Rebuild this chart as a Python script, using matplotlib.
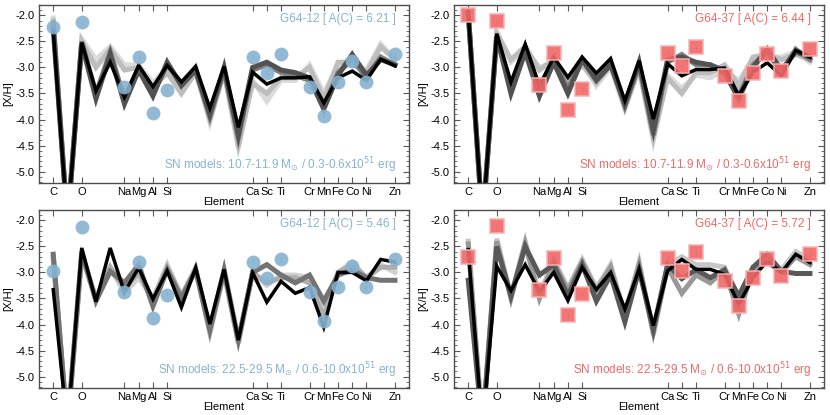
import matplotlib
matplotlib.use('Agg')
import matplotlib.pyplot as plt
from matplotlib.ticker import MultipleLocator

plt.rcParams['font.family'] = ['Liberation Sans', 'DejaVu Sans']
plt.rcParams['mathtext.fontset'] = 'dejavusans'

# atomic numbers C..Zn, the model curves cover every one of them
z_all = list(range(6, 31))

# observed elements
obs_z = [6, 8, 11, 12, 13, 14, 20, 21, 22, 24, 25, 26, 27, 28, 30]
obs_names = ['C', 'O', 'Na', 'Mg', 'Al', 'Si', 'Ca', 'Sc', 'Ti', 'Cr', 'Mn', 'Fe', 'Co', 'Ni', 'Zn']

g6412_hi = [-2.22, -2.13, -3.37, -2.80, -3.88, -3.43, -2.79, -3.11, -2.75, -3.37, -3.93, -3.28, -2.88, -3.28, -2.75]
g6412_lo = [-2.97, -2.13, -3.37, -2.80, -3.88, -3.43, -2.79, -3.11, -2.75, -3.37, -3.93, -3.28, -2.88, -3.28, -2.75]
g6437_hi = [-1.99, -2.11, -3.34, -2.73, -3.82, -3.41, -2.72, -2.98, -2.61, -3.16, -3.65, -3.11, -2.75, -3.06, -2.64]
g6437_lo = [-2.71, -2.11, -3.34, -2.73, -3.82, -3.41, -2.72, -2.98, -2.61, -3.16, -3.65, -3.11, -2.75, -3.06, -2.64]

# SN yield models, Z = 6..30 (N sits far below the plot)
# panel 1: low mass models fitted to G64-12
m1_black = [-2.30, -6.0, -2.52, -3.45, -2.90, -3.57, -2.96, -3.37, -2.96, -3.28, -2.98, -3.78, -2.98, -4.15, -3.09,
            -3.32, -3.20, -3.20, -3.18, -3.68, -3.20, -3.07, -3.25, -2.84, -2.97]
m1_dark = [-2.25, -6.0, -2.55, -3.60, -2.75, -3.70, -3.05, -3.55, -2.90, -3.35, -3.05, -3.90, -3.00, -4.30, -3.00,
           -2.90, -3.05, -3.10, -3.20, -3.80, -3.15, -2.75, -3.15, -2.85, -2.95]
m1_mid = [-2.15, -6.0, -2.50, -3.50, -2.70, -3.60, -3.00, -3.50, -2.95, -3.30, -3.05, -3.95, -3.05, -4.35, -3.05,
          -2.95, -3.10, -3.15, -3.25, -3.75, -3.10, -2.85, -3.20, -2.80, -2.95]
m1_light = [-2.10, -6.0, -2.50, -3.00, -2.65, -3.05, -3.00, -3.40, -3.10, -3.50, -3.10, -4.00, -3.10, -4.50, -3.30,
            -3.50, -3.20, -3.20, -3.00, -3.60, -2.90, -2.90, -3.10, -2.60, -2.85]
m1_pale = [-2.05, -6.0, -2.45, -2.85, -2.60, -2.95, -2.95, -3.30, -3.00, -3.40, -3.00, -4.05, -3.05, -4.55, -3.25,
           -3.65, -3.25, -3.25, -2.95, -3.50, -2.95, -2.95, -3.05, -2.55, -2.85]

# panel 2: low mass models fitted to G64-37
m2_black = [-1.95, -6.0, -2.35, -3.28, -2.55, -3.35, -2.80, -3.19, -2.80, -3.11, -2.83, -3.64, -2.87, -3.99, -2.93,
            -3.16, -3.04, -3.04, -3.01, -3.54, -3.09, -2.91, -3.16, -2.67, -2.80]
m2_dark = [-1.95, -6.0, -2.40, -3.50, -2.70, -3.55, -2.90, -3.50, -2.85, -3.25, -2.95, -3.70, -2.90, -4.20, -2.85,
           -2.80, -2.90, -2.95, -3.10, -3.60, -3.00, -2.65, -3.05, -2.70, -2.80]
m2_mid = [-1.95, -6.0, -2.40, -3.40, -2.65, -3.45, -2.85, -3.40, -2.85, -3.20, -2.90, -3.75, -2.95, -4.30, -2.90,
          -2.75, -2.95, -2.95, -3.05, -3.55, -2.95, -2.70, -3.10, -2.65, -2.85]
m2_light = [-1.95, -6.0, -2.35, -2.85, -2.60, -3.05, -2.85, -3.25, -2.95, -3.30, -2.95, -3.75, -3.00, -4.35, -3.20,
            -3.50, -3.10, -3.10, -2.95, -3.35, -2.80, -2.75, -2.85, -2.75, -2.85]
m2_pale = [-1.95, -6.0, -2.30, -2.90, -2.65, -3.00, -2.90, -3.20, -2.90, -3.35, -3.00, -3.80, -3.05, -4.40, -3.15,
           -3.40, -3.15, -3.20, -3.05, -3.25, -2.85, -2.80, -2.80, -2.70, -2.90]

# panel 3: high mass models fitted to G64-12
m3_black = [-3.33, -6.0, -2.53, -3.56, -2.53, -3.38, -2.91, -3.51, -2.97, -3.67, -2.91, -3.99, -2.94, -4.30, -3.00,
            -3.57, -3.17, -3.40, -3.29, -4.05, -3.00, -3.00, -3.16, -2.75, -2.80]
m3_mid = [-2.65, -6.0, -2.60, -3.55, -2.98, -3.20, -2.85, -3.65, -2.95, -3.50, -2.95, -4.10, -2.95, -4.30, -3.00,
          -2.85, -3.05, -3.20, -3.05, -3.55, -3.05, -2.95, -3.10, -3.15, -3.15]
m3_light = [-2.70, -6.0, -2.65, -3.50, -2.90, -3.30, -3.00, -3.55, -2.90, -3.45, -2.95, -4.15, -3.00, -4.35, -3.00,
            -3.20, -3.10, -3.10, -3.20, -3.85, -3.00, -2.85, -3.10, -2.90, -2.90]
m3_pale = [-2.75, -6.0, -2.70, -3.50, -2.90, -3.40, -3.10, -3.50, -2.85, -3.45, -2.90, -4.15, -3.00, -4.35, -3.00,
           -3.25, -3.05, -3.05, -3.10, -3.70, -3.00, -2.80, -3.10, -2.85, -3.00]

# panel 4: high mass models fitted to G64-37
m4_black = [-2.56, -6.0, -2.88, -3.35, -2.85, -3.37, -3.00, -3.54, -2.90, -3.33, -3.00, -3.70, -2.94, -4.02, -2.97,
            -2.75, -2.94, -2.94, -3.04, -3.61, -3.10, -2.78, -3.00, -2.65, -2.81]
m4_dark = [-3.15, -6.0, -2.50, -3.45, -2.50, -3.05, -2.85, -3.45, -2.85, -3.55, -3.05, -3.95, -2.95, -4.10, -2.85,
           -3.12, -2.95, -3.10, -2.95, -3.45, -2.90, -2.65, -2.98, -3.02, -3.02]
m4_light = [-2.45, -6.0, -2.40, -3.50, -2.45, -3.50, -2.80, -3.35, -2.80, -3.35, -2.90, -3.85, -2.85, -4.15, -2.90,
            -3.40, -3.05, -3.20, -2.95, -3.80, -2.95, -2.80, -3.00, -2.70, -2.85]
m4_pale = [-2.40, -6.0, -2.35, -3.45, -2.40, -3.45, -2.75, -3.30, -2.75, -3.30, -2.85, -3.80, -2.80, -4.20, -2.85,
           -2.70, -2.85, -2.85, -2.90, -3.55, -3.00, -2.75, -2.95, -2.60, -2.75]

blue = '#86b3d1'
red = '#f06868'
low_txt = r'SN models: 10.7-11.9 M$_{\odot}$ / 0.3-0.6x10$^{51}$ erg'
high_txt = r'SN models: 22.5-29.5 M$_{\odot}$ / 0.6-10.0x10$^{51}$ erg'

panels = [
    # rect, models [(values, grey)], obs, star label, sn label, colour, marker
    ([0.047, 0.559, 0.446, 0.429],
     [(m1_pale, '0.86'), (m1_light, '0.74'), (m1_mid, '0.5'), (m1_dark, '0.32'), (m1_black, 'k')],
     g6412_hi, 'G64-12 [ A(C) = 6.21 ]', low_txt, blue, 'o'),
    ([0.547, 0.559, 0.446, 0.429],
     [(m2_pale, '0.86'), (m2_light, '0.74'), (m2_mid, '0.5'), (m2_dark, '0.32'), (m2_black, 'k')],
     g6437_hi, 'G64-37 [ A(C) = 6.44 ]', low_txt, red, 's'),
    ([0.047, 0.065, 0.446, 0.429],
     [(m3_pale, '0.82'), (m3_light, '0.68'), (m3_mid, '0.45'), (m3_black, 'k')],
     g6412_lo, 'G64-12 [ A(C) = 5.46 ]', high_txt, blue, 'o'),
    ([0.547, 0.065, 0.446, 0.429],
     [(m4_pale, '0.78'), (m4_light, '0.6'), (m4_dark, '0.35'), (m4_black, 'k')],
     g6437_lo, 'G64-37 [ A(C) = 5.72 ]', high_txt, red, 's'),
]

fig = plt.figure(figsize=(8.3, 4.15), dpi=100)

for rect, models, obs, star, sn, col, mk in panels:
    ax = fig.add_axes(rect)
    for vals, grey in models:
        lw = 2.5 if grey == 'k' else 3.6
        ax.plot(z_all, vals, color=grey, lw=lw, solid_joinstyle='miter', zorder=2)
    if mk == 'o':
        ax.plot(obs_z, obs, 'o', ms=10, color=col, mec='none', alpha=0.9, zorder=3)
    else:
        ax.plot(obs_z, obs, 's', ms=10, color=col, mec='#f8b0b0', mew=1.2, alpha=0.9, zorder=3)
    ax.errorbar(obs_z, obs, yerr=0.05, fmt='none', ecolor=col, elinewidth=0.8, alpha=0.8, zorder=3)

    ax.text(0.964, 0.92, star, transform=ax.transAxes, ha='right', va='center', color=col, fontsize=8.5)
    ax.text(0.964, 0.10, sn, transform=ax.transAxes, ha='right', va='center', color=col, fontsize=8.5)

    ax.set_xlim(5, 31)
    ax.set_ylim(-5.22, -1.8)
    ax.set_xticks(obs_z)
    ax.set_xticklabels(obs_names)
    ax.yaxis.set_minor_locator(MultipleLocator(0.1))
    ax.set_yticks([-2.0, -2.5, -3.0, -3.5, -4.0, -4.5, -5.0])
    ax.set_yticklabels(['-2.0', '-2.5', '-3.0', '-3.5', '-4.0', '-4.5', '-5.0'])
    ax.tick_params(which='both', direction='in', top=True, right=True, labelsize=8, color='0.35', pad=3)
    ax.tick_params(which='major', length=4)
    ax.tick_params(which='minor', length=2)
    for s in ax.spines.values():
        s.set_color('0.3')
        s.set_linewidth(1.0)
    ax.set_xlabel('Element', fontsize=8, labelpad=0)
    ax.set_ylabel('[X/H]', fontsize=8, labelpad=2)

fig.savefig('out.png', dpi=100)
